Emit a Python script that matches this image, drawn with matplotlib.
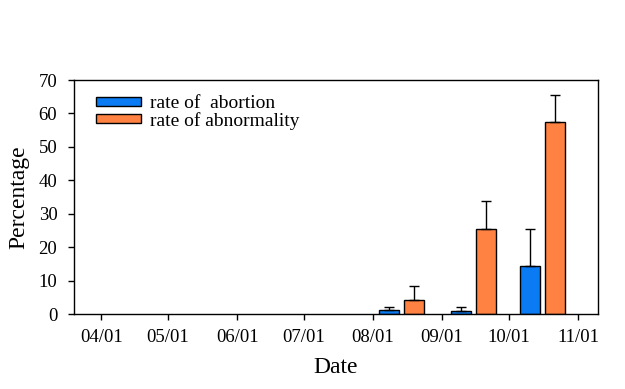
import numpy as np
import matplotlib
matplotlib.use("Agg")
import matplotlib.pyplot as plt
import matplotlib.dates as mdates

plt.rcParams['font.family'] = ['Liberation Serif', 'DejaVu Serif']

# data
group_dates = np.array(['2021-08-14', '2021-09-15', '2021-10-16'], dtype='datetime64[D]')
abortion = [1.1, 0.8, 14.3]
abortion_err = [0.9, 1.2, 11.0]
abnormality = [4.1, 25.3, 57.3]
abnormality_err = [4.2, 8.4, 8.1]
tick_dates = np.array(['2021-04-01', '2021-05-01', '2021-06-01', '2021-07-01',
                       '2021-08-01', '2021-09-01', '2021-10-01', '2021-11-01'],
                      dtype='datetime64[D]')
tick_labels = ['04/01', '05/01', '06/01', '07/01', '08/01', '09/01', '10/01', '11/01']

blue = '#0A7BF2'
orange = '#FF8243'

fig = plt.figure(figsize=(6.25, 3.89), dpi=100)
ax = fig.add_axes([0.1184, 0.1928, 0.8384, 0.6015])

x = mdates.date2num(group_dates.astype('datetime64[s]').astype(object))
w = 9.0
off = 5.6
ekw = dict(elinewidth=1.0, capthick=1.0, ecolor='black')
ax.bar(x - off, abortion, width=w, color=blue, edgecolor='black', linewidth=1.0,
       yerr=[np.zeros(3), abortion_err], capsize=3.3, error_kw=ekw,
       label='rate of  abortion')
ax.bar(x + off, abnormality, width=w, color=orange, edgecolor='black', linewidth=1.0,
       yerr=[np.zeros(3), abnormality_err], capsize=3.3, error_kw=ekw,
       label='rate of abnormality')

tx = mdates.date2num(tick_dates.astype('datetime64[s]').astype(object))
ax.set_xticks(tx)
ax.set_xticklabels(tick_labels)
ax.set_xlim(tx[0] - 12.2, tx[-1] + 9.0)
ax.set_ylim(0, 70)
ax.set_yticks(range(0, 71, 10))

ax.tick_params(axis='both', direction='out', length=4, width=1, labelsize=13.5,
               top=False, right=False)
ax.tick_params(axis='x', pad=7)
ax.tick_params(axis='y', pad=8)
for s in ax.spines.values():
    s.set_linewidth(1.0)

ax.set_xlabel('Date', fontsize=17, labelpad=8)
ax.set_ylabel('Percentage', fontsize=17, labelpad=7)

ax.legend(loc='upper left', bbox_to_anchor=(0.042, 0.935), frameon=False,
          fontsize=14, handlelength=2.3, handleheight=0.36, handletextpad=0.5,
          labelspacing=-0.02, borderpad=0, borderaxespad=0)

fig.savefig('out.png', dpi=100)
